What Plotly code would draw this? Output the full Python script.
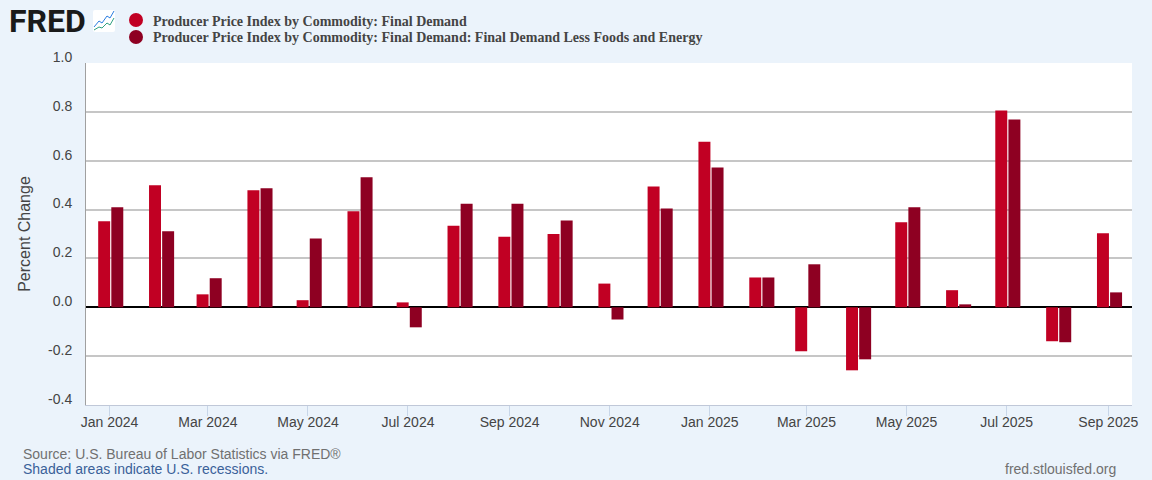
import plotly.graph_objects as go

months = ["2024-01-01","2024-02-01","2024-03-01","2024-04-01","2024-05-01","2024-06-01","2024-07-01",
          "2024-08-01","2024-09-01","2024-10-01","2024-11-01","2024-12-01","2025-01-01","2025-02-01",
          "2025-03-01","2025-04-01","2025-05-01","2025-06-01","2025-07-01","2025-08-01","2025-09-01"]
final_demand = [0.352,0.50,0.053,0.479,0.029,0.393,0.02,0.334,0.289,0.30,0.097,0.494,0.678,0.122,-0.18,-0.258,0.348,0.07,0.806,-0.139,0.303]
core_demand = [0.409,0.311,0.119,0.487,0.282,0.532,-0.082,0.424,0.424,0.355,-0.05,0.404,0.572,0.122,0.176,-0.213,0.409,0.012,0.769,-0.143,0.061]
tick_dates = months[::2]
tick_labels = ["Jan 2024","Mar 2024","May 2024","Jul 2024","Sep 2024","Nov 2024","Jan 2025","Mar 2025","May 2025","Jul 2025","Sep 2025"]
y_ticks = [-0.4,-0.2,0.0,0.2,0.4,0.6,0.8,1.0]
series_names = ["Producer Price Index by Commodity: Final Demand",
                "Producer Price Index by Commodity: Final Demand: Final Demand Less Foods and Energy"]
colors = ["#c10023", "#8e0022"]

DAY = 86400000
W, H = 1152, 480
L, R, T, B = 86, 1132, 63, 405
TEXT = "#444444"

fig = go.Figure()
fig.add_bar(x=months, y=final_demand, name=series_names[0], marker_color=colors[0], marker_line_width=0,
            width=7.3*DAY, offset=-6.9*DAY)
fig.add_bar(x=months, y=core_demand, name=series_names[1], marker_color=colors[1], marker_line_width=0,
            width=7.3*DAY, offset=1.1*DAY)

fig.update_layout(
    width=W, height=H, autosize=False, barmode="overlay", showlegend=False,
    paper_bgcolor="#ebf3fb", plot_bgcolor="#ffffff",
    margin=dict(l=L, r=W-R, t=T, b=H-B),
    font=dict(family="Liberation Sans, Arial, sans-serif", size=14, color=TEXT),
)
fig.update_xaxes(type="date", range=["2023-12-17 16:00","2025-09-15 11:00"], tickmode="array",
                 tickvals=tick_dates, ticktext=tick_labels, ticks="outside", ticklen=10,
                 tickcolor="#c8d6e8", tickwidth=1, showgrid=False, showline=True, ticklabelstandoff=-6,
                 linecolor="#c0c8d8", linewidth=1, tickfont=dict(size=14, color=TEXT), zeroline=False)
fig.update_yaxes(range=[-0.4,1.0], tickmode="array", tickvals=y_ticks,
                 ticktext=[f"{v:.1f}" for v in y_ticks], showgrid=True, gridcolor="#c6c6c6", gridwidth=2,
                 showline=True, linecolor="#a0a0a0", linewidth=1, ticks="", ticklabelshift=-6, ticklabelstandoff=10,
                 zeroline=True, zerolinecolor="#000000", zerolinewidth=2,
                 title=dict(text="Percent Change", font=dict(size=16, color=TEXT), standoff=13),
                 tickfont=dict(size=14, color=TEXT))

def note(x, y, text, size, color, family="Liberation Sans, Arial, sans-serif", **kw):
    fig.add_annotation(xref="paper", yref="paper", x=(x-L)/(R-L), y=(B-y)/(B-T), text=text, showarrow=False,
                       xanchor="left", yanchor="middle", font=dict(size=size, color=color, family=family), **kw)

serif = "Liberation Serif, Times New Roman, serif"
note(151, 21, f"<b>{series_names[0]}</b>", 14, TEXT, serif)
note(151, 38, f"<b>{series_names[1]}</b>", 14, TEXT, serif)
for yc, col in zip((20, 37), colors):
    fig.add_shape(type="circle", xref="paper", yref="paper", x0=(129-L)/(R-L), x1=(143-L)/(R-L),
                  y0=(B-yc-7)/(B-T), y1=(B-yc+7)/(B-T), fillcolor=col, line_width=0)

note(7, 21, "<b>FRED</b>", 32, "#1a1a1a", "Roboto, Liberation Sans, sans-serif")
icon = ("data:image/svg+xml;utf8,<svg xmlns='http://www.w3.org/2000/svg' width='22' height='22'>"
        "<rect width='22' height='22' rx='2' fill='white'/>"
        "<polyline points='1,17 6,11 9,13 14,6 17,8 21,1' fill='none' stroke='%232a7de1' stroke-width='1'/>"
        "<polyline points='1,20 6,17 9,18 14,13 17,15 21,8' fill='none' stroke='%2330a080' stroke-width='1'/></svg>")
fig.add_layout_image(source=icon, xref="paper", yref="paper", x=(93-L)/(R-L), y=(B-10)/(B-T),
                     sizex=22/(R-L), sizey=22/(B-T), xanchor="left", yanchor="top", layer="above")

note(21, 454, "Source: U.S. Bureau of Labor Statistics via FRED®", 14, "#707070")
note(21, 469, "Shaded areas indicate U.S. recessions.", 14, "#3a6199")
note(1003, 469, "fred.stlouisfed.org", 14, "#707070")

fig.write_html("out.html", config={"displayModeBar": False},
               post_script="document.body.style.margin='0';document.body.style.background='#ebf3fb';")
